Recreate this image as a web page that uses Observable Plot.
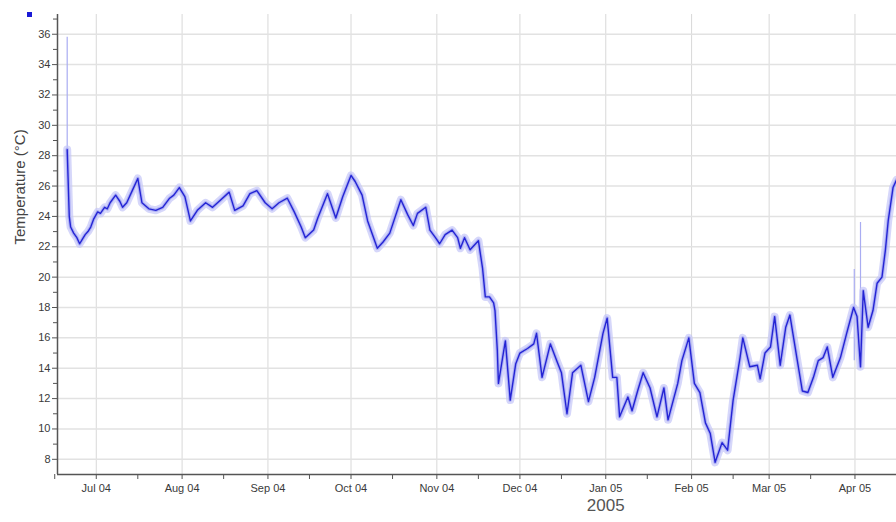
<!DOCTYPE html>
<html>
<head>
<meta charset="utf-8">
<script src="https://cdn.jsdelivr.net/npm/d3@7"></script>
<script src="https://cdn.jsdelivr.net/npm/@observablehq/plot@0.6"></script>
<style>
  body { margin: 0; background: #fff; }
  #wrap { position: relative; width: 896px; height: 522px; }
  #legend { position: absolute; left: 27px; top: 12px; width: 5px; height: 5px; background: #1a1ad6; }
</style>
</head>
<body>
<div id="wrap"><div id="legend"></div></div>
<script>
// Sample times (UTC)
const times = [
  "2004-06-20T12","2004-06-21T06","2004-06-21T18","2004-06-22T20","2004-06-24","2004-06-25","2004-06-26","2004-06-27","2004-06-28","2004-06-29","2004-06-30",
  "2004-07-01T12","2004-07-02T12","2004-07-04","2004-07-05","2004-07-06","2004-07-08","2004-07-09T12","2004-07-10T12","2004-07-12","2004-07-14","2004-07-16","2004-07-17T12","2004-07-20","2004-07-22T12","2004-07-25","2004-07-27T12","2004-07-29","2004-07-31",
  "2004-08-02","2004-08-04","2004-08-06T12","2004-08-09T12","2004-08-12","2004-08-15","2004-08-18","2004-08-20","2004-08-23","2004-08-25T12","2004-08-28","2004-08-31",
  "2004-09-02T12","2004-09-05","2004-09-08","2004-09-10T12","2004-09-13","2004-09-14T12","2004-09-17T12","2004-09-19","2004-09-22T12","2004-09-25T12","2004-09-28",
  "2004-10-01","2004-10-02T12","2004-10-05","2004-10-07","2004-10-10T12","2004-10-12T12","2004-10-15","2004-10-19","2004-10-21T12","2004-10-23T12","2004-10-25","2004-10-28","2004-10-29T12","2004-10-31T12",
  "2004-11-02","2004-11-04","2004-11-06T12","2004-11-08T12","2004-11-09T12","2004-11-11","2004-11-13","2004-11-14","2004-11-16","2004-11-17T12","2004-11-18T12","2004-11-20","2004-11-21T12","2004-11-22","2004-11-22T20","2004-11-23T06","2004-11-24T18","2004-11-25T18","2004-11-27T12","2004-11-29T12",
  "2004-12-01","2004-12-03T18","2004-12-06","2004-12-07","2004-12-09","2004-12-12","2004-12-14T12","2004-12-16","2004-12-18","2004-12-20","2004-12-23","2004-12-25T18","2004-12-28","2004-12-31",
  "2005-01-01T12","2005-01-03T12","2005-01-05","2005-01-06","2005-01-09","2005-01-10T12","2005-01-12T12","2005-01-14T12","2005-01-17","2005-01-19T12","2005-01-22","2005-01-23T12","2005-01-27","2005-01-28T12","2005-01-31",
  "2005-02-02","2005-02-04","2005-02-06","2005-02-07T18","2005-02-09T12","2005-02-12","2005-02-14","2005-02-16","2005-02-18T12","2005-02-19T12","2005-02-22","2005-02-24T18","2005-02-25T18","2005-02-27T12",
  "2005-03-01T12","2005-03-03","2005-03-05","2005-03-07","2005-03-08T12","2005-03-11","2005-03-13","2005-03-15","2005-03-17","2005-03-18T18","2005-03-20T12","2005-03-22","2005-03-24","2005-03-26T18","2005-03-29","2005-03-31T12",
  "2005-04-01T18","2005-04-03","2005-04-04","2005-04-05T18","2005-04-07T12","2005-04-09","2005-04-10T18","2005-04-12","2005-04-13","2005-04-14T18","2005-04-16"
];
// Temperature (°C) at those times
const temps = [
  28.4,24.0,23.3,22.9,22.6,22.2,22.5,22.8,23.0,23.3,23.8,
  24.3,24.2,24.6,24.5,24.9,25.4,25.0,24.6,24.9,25.7,26.5,24.9,24.5,24.4,24.6,25.2,25.4,25.9,
  25.3,23.7,24.4,24.9,24.6,25.1,25.6,24.4,24.7,25.5,25.7,24.9,
  24.5,24.9,25.2,24.3,23.3,22.6,23.1,23.9,25.5,23.9,25.3,
  26.7,26.3,25.4,23.7,21.9,22.3,22.9,25.1,24.1,23.4,24.2,24.6,23.1,22.6,
  22.2,22.8,23.1,22.6,21.9,22.6,21.8,22.0,22.4,20.6,18.7,18.7,18.3,17.8,15.2,13.0,14.7,15.8,11.9,14.3,
  15.0,15.3,15.6,16.3,13.4,15.6,14.4,13.7,11.0,13.7,14.2,11.8,13.4,16.3,
  17.3,13.4,13.4,10.8,12.1,11.2,12.5,13.7,12.7,10.8,12.7,10.6,13.0,14.5,16.0,
  13.0,12.4,10.4,9.7,7.8,9.1,8.6,11.9,14.7,16.0,14.1,14.2,13.3,15.0,
  15.4,17.4,14.2,16.7,17.5,14.7,12.5,12.4,13.4,14.5,14.7,15.4,13.4,14.7,16.3,18.0,
  17.4,14.1,19.1,16.7,17.8,19.6,20.0,21.8,23.7,25.9,26.4
];
// Short excursions of the reading band (time, low, high)
const spikeTimes = ["2004-06-20T12","2005-04-03","2005-03-31T18"];
const spikeLow = [28.0, 14.0, 14.5];
const spikeHigh = [35.8, 23.6, 20.5];

const monthTicks = ["2004-07-01","2004-08-01","2004-09-01","2004-10-01","2004-11-01","2004-12-01","2005-01-01","2005-02-01","2005-03-01","2005-04-01"];
const midTicks = ["2004-06-16","2004-07-16","2004-08-16","2004-09-16","2004-10-16","2004-11-16","2004-12-16","2005-01-16","2005-02-16","2005-03-16","2005-04-16"];
const yMajor = [8,10,12,14,16,18,20,22,24,26,28,30,32,34,36];
const yMinor = [9,11,13,15,17,19,21,23,25,27,29,31,33,35,37];
const yearLabel = "2005";
const yTitle = "Temperature (°C)";

const parse = s => new Date(s.length > 10 ? s + ":00Z" : s + "T00:00Z");
const data = times.map((t, i) => ({date: parse(t), temp: temps[i]}));
const spikes = spikeTimes.map((t, i) => ({date: parse(t), lo: spikeLow[i], hi: spikeHigh[i]}));
const xDomain = [parse("2004-06-17"), parse("2005-04-16")];
const mTicks = monthTicks.map(parse);
const mids = midTicks.map(parse);

const chart = Plot.plot({
  width: 896,
  height: 522,
  marginLeft: 57,
  marginRight: 0,
  marginTop: 14,
  marginBottom: 48,
  style: {fontFamily: "'Liberation Sans', Arial, sans-serif", fontSize: "11px", color: "#3a3a3a", background: "#fff"},
  x: {type: "utc", domain: xDomain},
  y: {domain: [7, 37.3]},
  marks: [
    Plot.gridX(mTicks, {stroke: "#d8d8d8", strokeOpacity: 1}),
    Plot.gridY(yMajor, {stroke: "#e2e2e2", strokeOpacity: 1, strokeWidth: 1.5}),
    Plot.ruleX(spikes, {x: "date", y1: "lo", y2: "hi", stroke: "#a9acf2", strokeWidth: 1.2}),
    Plot.line(data, {x: "date", y: "temp", stroke: "#c4c6f8", strokeWidth: 8, strokeOpacity: 0.7, curve: "linear"}),
    Plot.line(data, {x: "date", y: "temp", stroke: "#8d90f0", strokeWidth: 3.5, strokeOpacity: 0.55}),
    Plot.line(data, {x: "date", y: "temp", stroke: "#2424d4", strokeWidth: 1.4}),
    Plot.axisY(yMajor, {tickSize: 5, tickPadding: 2, stroke: "#555", fill: "#3a3a3a", label: null}),
    Plot.axisY(yMinor.filter(v => v < 37.3), {tickSize: 4, tickFormat: () => "", stroke: "#555", label: null}),
    Plot.axisX(mTicks, {tickSize: 5, tickPadding: 5, tickFormat: d3.utcFormat("%b %y"), stroke: "#555", fill: "#3a3a3a", label: null}),
    Plot.axisX(mids, {tickSize: 5, tickFormat: () => "", stroke: "#555", label: null}),
    Plot.ruleY([7], {stroke: "#555", strokeWidth: 1.5}),
    Plot.ruleX([xDomain[0]], {stroke: "#555", strokeWidth: 1.5}),
    Plot.text([yearLabel], {x: () => parse("2005-01-01"), text: d => d, frameAnchor: "bottom", dy: 36, fontSize: 17, fill: "#555"}),
    Plot.text([yTitle], {frameAnchor: "left", text: d => d, rotate: -90, dx: -37, fontSize: 15, fill: "#444"})
  ]
});
document.getElementById("wrap").appendChild(chart);
</script>
</body>
</html>
